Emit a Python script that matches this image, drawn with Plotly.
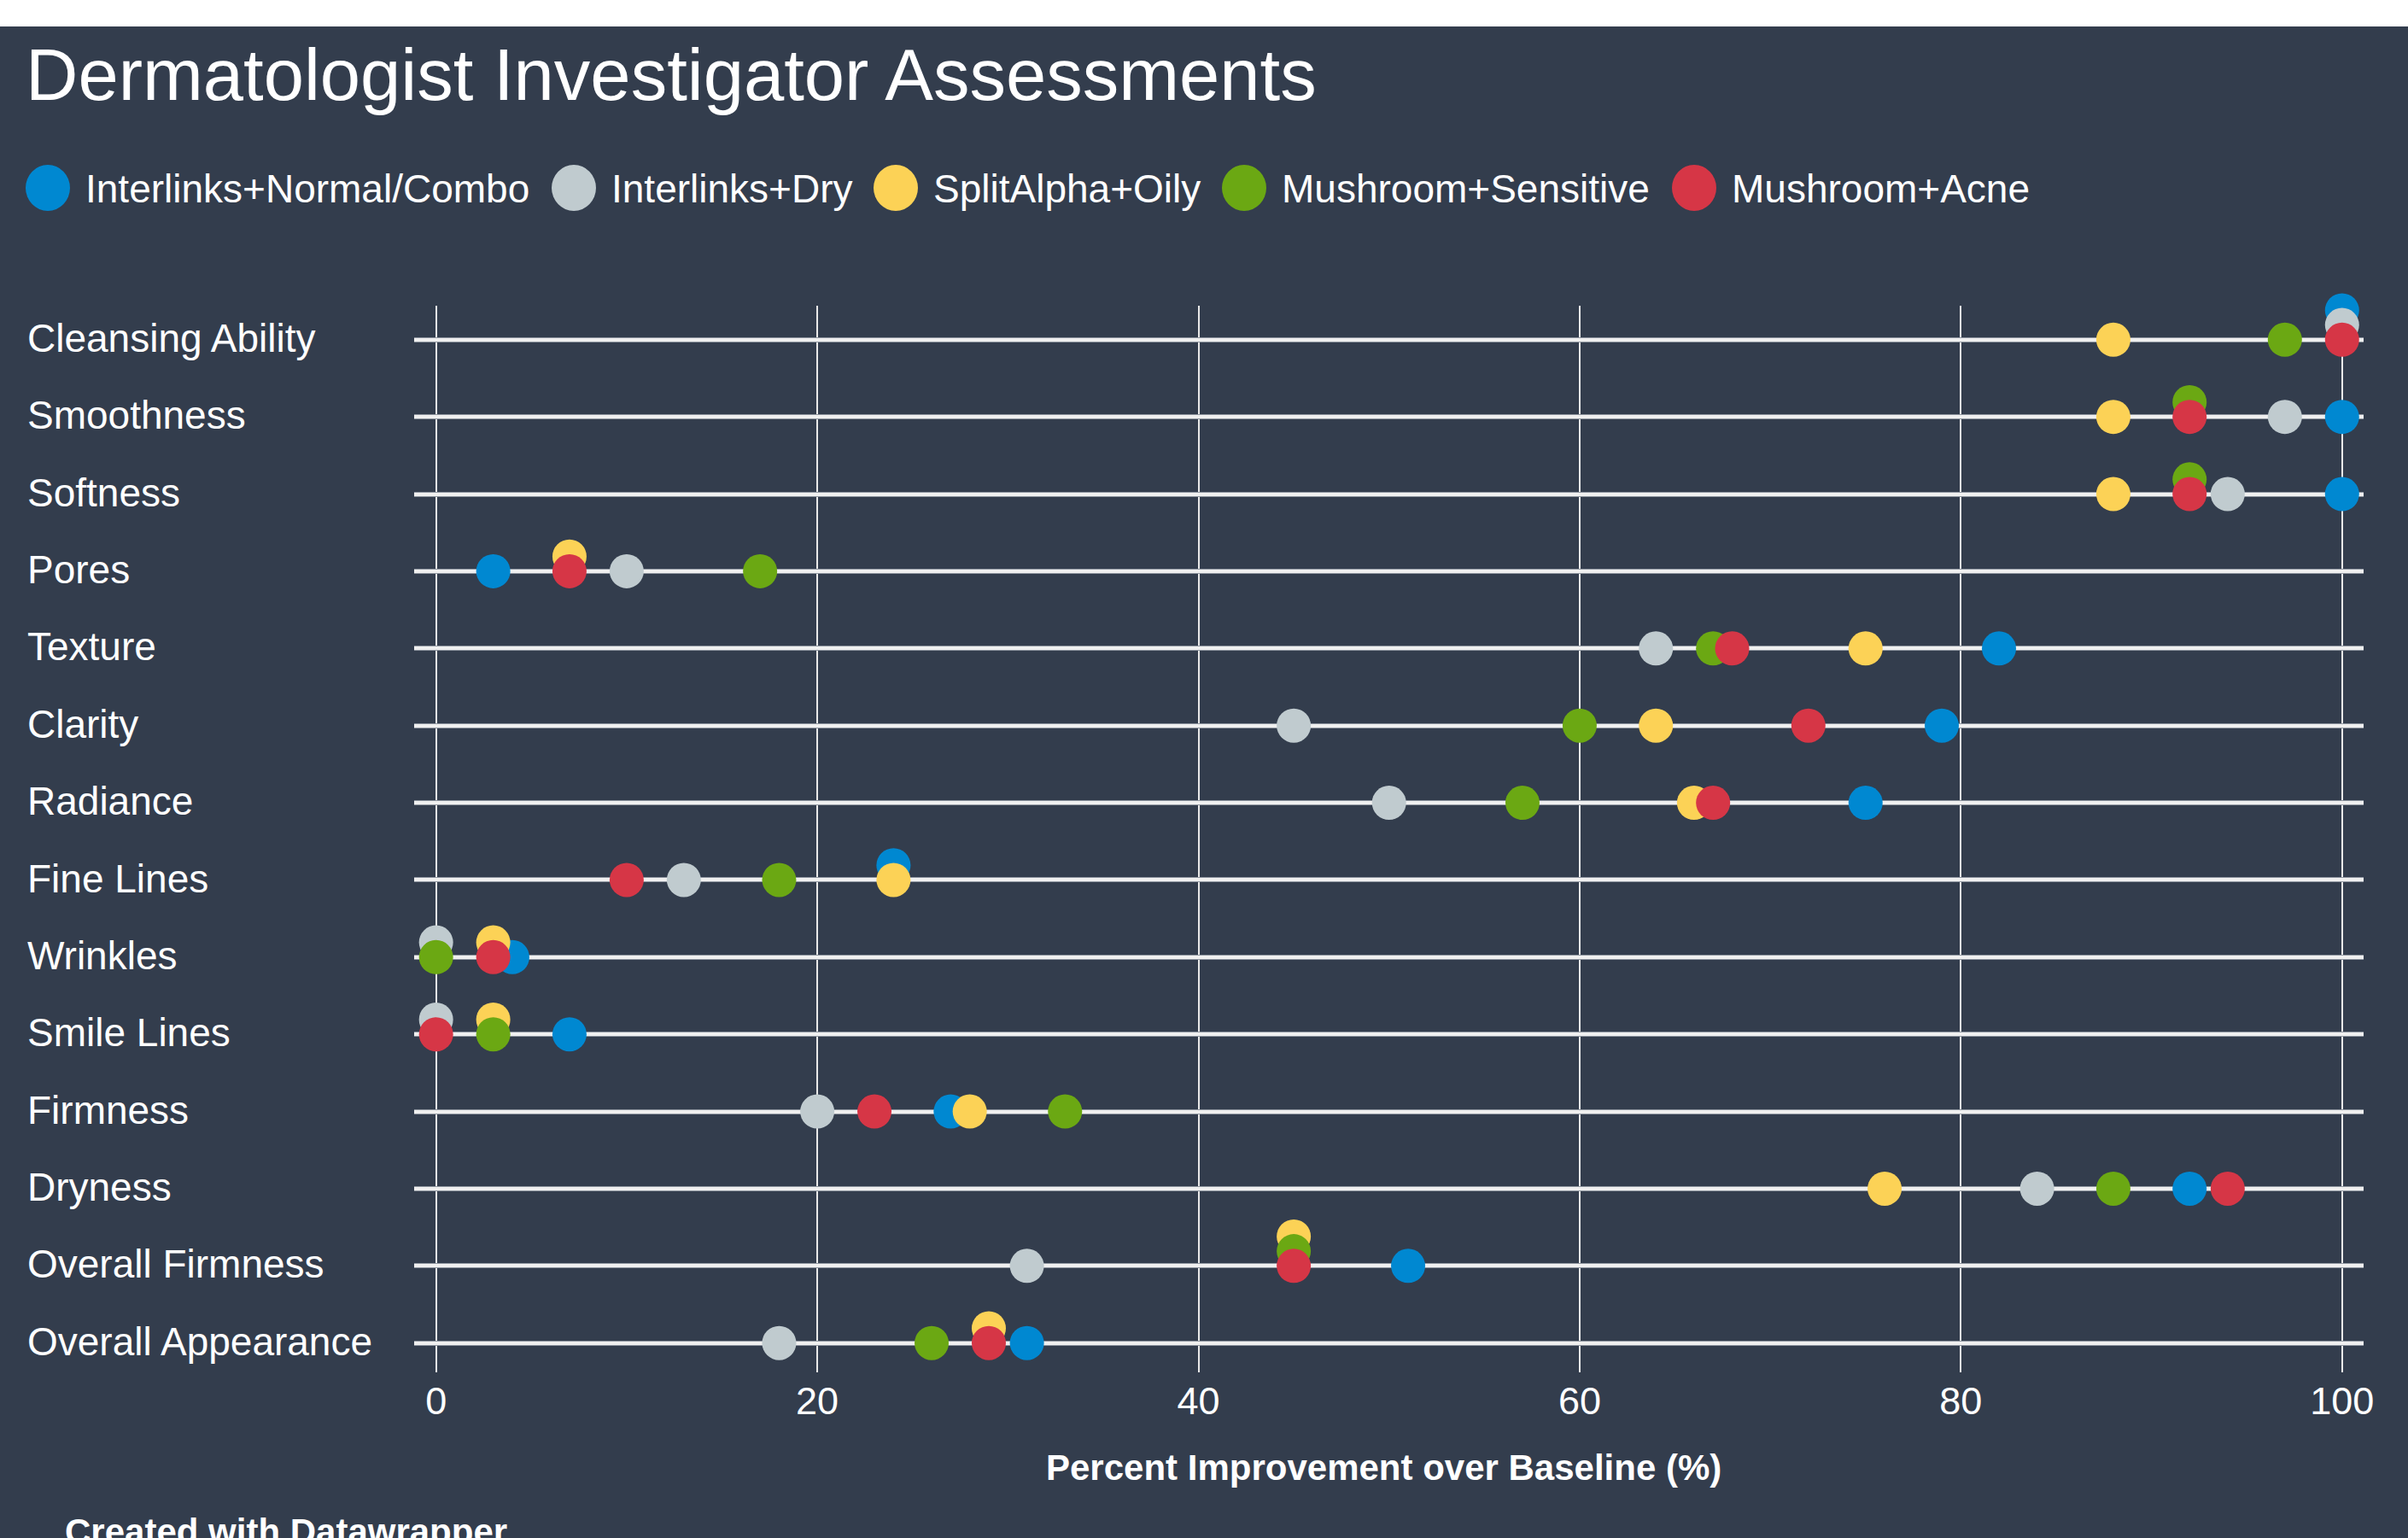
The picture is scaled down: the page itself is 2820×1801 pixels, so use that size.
import plotly.graph_objects as go

# ---------------- data ----------------
categories = [
    "Cleansing Ability", "Smoothness", "Softness", "Pores", "Texture", "Clarity",
    "Radiance", "Fine Lines", "Wrinkles", "Smile Lines", "Firmness", "Dryness",
    "Overall Firmness", "Overall Appearance",
]

series_names = [
    "Interlinks+Normal/Combo", "Interlinks+Dry", "SplitAlpha+Oily",
    "Mushroom+Sensitive", "Mushroom+Acne",
]

interlinks_normal_combo = [100, 100, 100, 3, 82, 79, 75, 24, 4, 7, 27, 92, 51, 31]
interlinks_dry          = [100, 97, 94, 10, 64, 45, 50, 13, 0, 0, 20, 84, 31, 18]
splitalpha_oily         = [88, 88, 88, 7, 75, 64, 66, 24, 3, 3, 28, 76, 45, 29]
mushroom_sensitive      = [97, 92, 92, 17, 67, 60, 57, 18, 0, 3, 33, 88, 45, 26]
mushroom_acne           = [100, 92, 92, 7, 68, 72, 67, 10, 3, 0, 23, 94, 45, 29]

series_values = [interlinks_normal_combo, interlinks_dry, splitalpha_oily,
                 mushroom_sensitive, mushroom_acne]

x_tick_values = [0, 20, 40, 60, 80, 100]
x_axis_title = "Percent Improvement over Baseline (%)"
chart_title = "Dermatologist Investigator Assessments"
footer_text = "Created with Datawrapper"

# ---------------- style ----------------
colors = ["#0088d1", "#c0cbcf", "#fcd256", "#6ba813", "#d63646"]
BG = "#333d4d"
FONT = "Liberation Sans, Arial, Helvetica, sans-serif"
W, H = 2820, 1801
ML, MR, MT, MB = 485, 52, 358, 194
PW, PH = W - ML - MR, H - MT - MB
STACK = 0.19          # vertical offset (category units) for coinciding dots
MARKER = 40


def px_x(p):
    return (p - ML) / PW


def px_y(p):
    return (H - MB - p) / PH


fig = go.Figure()

# helper trace so the overlaid axis (white core of the row lines) is created
fig.add_trace(go.Scatter(x=[], y=[], yaxis="y2", showlegend=False, hoverinfo="skip"))

n_series = len(series_values)
for k, (name, vals, col) in enumerate(zip(series_names, series_values, colors)):
    ypos = []
    for i, v in enumerate(vals):
        later_same = sum(1 for j in range(k + 1, n_series) if series_values[j][i] == v)
        ypos.append(i - later_same * STACK)
    fig.add_trace(go.Scatter(
        x=vals, y=ypos, mode="markers", name=name,
        marker=dict(size=MARKER, color=col, line=dict(width=0)),
        customdata=categories,
        hovertemplate="%{customdata}: %{x}%<extra>" + name + "</extra>",
        cliponaxis=False, showlegend=False,
    ))

annotations = []
# category labels (left aligned)
for i, cat in enumerate(categories):
    annotations.append(dict(
        text=cat, xref="paper", x=px_x(30), xanchor="left",
        yref="y", y=i - 0.02, yanchor="middle", showarrow=False,
        font=dict(family=FONT, size=46, color="#ffffff"),
    ))

# title
annotations.append(dict(
    text=chart_title, xref="paper", x=px_x(28), xanchor="left",
    yref="paper", y=px_y(87), yanchor="middle", showarrow=False,
    font=dict(family=FONT, size=85, color="#ffffff"),
))

# custom legend
shapes = []
legend_cx = [56, 672, 1049, 1457, 1984]
legend_cy = 220
for name, col, cx in zip(series_names, colors, legend_cx):
    shapes.append(dict(
        type="circle", xref="paper", yref="paper",
        xsizemode="pixel", ysizemode="pixel",
        xanchor=px_x(cx), yanchor=px_y(legend_cy),
        x0=-26, x1=26, y0=-27, y1=27,
        fillcolor=col, line=dict(width=0),
    ))
    annotations.append(dict(
        text=name, xref="paper", x=px_x(cx + 42), xanchor="left",
        yref="paper", y=px_y(legend_cy + 1), yanchor="middle", showarrow=False,
        font=dict(family=FONT, size=46, color="#ffffff"),
    ))

# axis title
annotations.append(dict(
    text="<b>" + x_axis_title + "</b>", xref="paper", x=px_x(1620), xanchor="center",
    yref="paper", y=px_y(1718), yanchor="middle", showarrow=False,
    font=dict(family=FONT, size=42, color="#ffffff"),
))

# footer
annotations.append(dict(
    text="<b>" + footer_text + "</b>", xref="paper", x=px_x(74), xanchor="left",
    yref="paper", y=px_y(1793), yanchor="middle", showarrow=False,
    font=dict(family=FONT, size=42, color="#ffffff"),
))

# white strip at top of the picture
shapes.append(dict(
    type="rect", xref="paper", yref="paper", ysizemode="pixel", yanchor=1,
    x0=px_x(-10), x1=px_x(W + 10), y0=MT - 31, y1=MT + 10,
    fillcolor="#ffffff", line=dict(width=0), layer="below",
))

y_range = [len(categories) - 1 + 0.38, -0.44]
y_ticks = list(range(len(categories)))

fig.update_layout(
    width=W, height=H,
    margin=dict(l=ML, r=MR, t=MT, b=MB, pad=0),
    paper_bgcolor=BG, plot_bgcolor=BG,
    font=dict(family=FONT, color="#ffffff"),
    showlegend=False,
    annotations=annotations,
    shapes=shapes,
    xaxis=dict(
        range=[-1.15, 101.13], tickmode="array", tickvals=x_tick_values,
        showgrid=True, gridcolor="#e9e9e9", gridwidth=2,
        zeroline=False, showline=False, ticks="",
        tickfont=dict(family=FONT, size=45, color="#ffffff"),
        ticklabelstandoff=3, fixedrange=True,
    ),
    yaxis=dict(
        range=y_range, tickmode="array", tickvals=y_ticks,
        showticklabels=False, showgrid=True, gridcolor="#8f96a0", gridwidth=6,
        zeroline=False, showline=False, ticks="", fixedrange=True,
    ),
    yaxis2=dict(
        overlaying="y", range=y_range, tickmode="array", tickvals=y_ticks,
        showticklabels=False, showgrid=True, gridcolor="#f0f0f0", gridwidth=3.5,
        zeroline=False, showline=False, ticks="", fixedrange=True,
    ),
)

fig.write_html(
    "out.html",
    config={"displayModeBar": False},
    post_script="document.body.style.margin='0';document.body.style.padding='0';",
)
